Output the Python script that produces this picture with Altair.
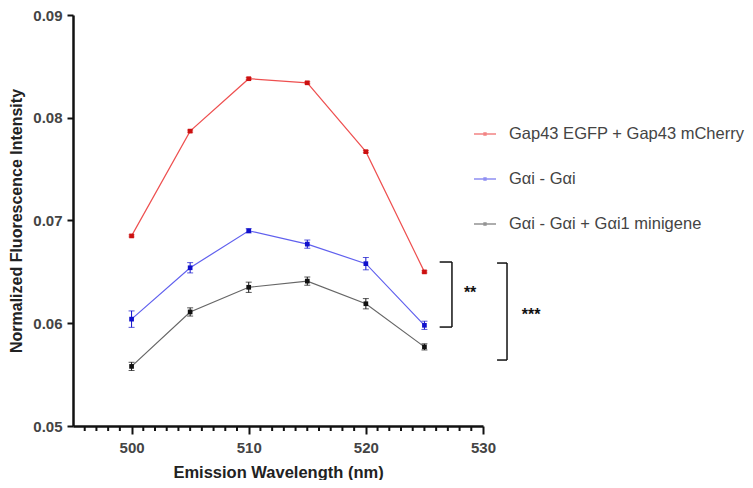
import altair as alt
import pandas as pd

wavelengths = [500, 505, 510, 515, 520, 525]
series_names = ["Gap43 EGFP + Gap43 mCherry", "Gαi - Gαi", "Gαi - Gαi + Gαi1 minigene"]
red_vals = [0.0685, 0.0787, 0.0838, 0.0834, 0.0767, 0.0650]
red_err = [0.0001, 0.0001, 0.0001, 0.0001, 0.0001, 0.0001]
blue_vals = [0.0604, 0.0654, 0.0690, 0.0677, 0.0658, 0.0598]
blue_err = [0.0008, 0.0005, 0.0002, 0.0004, 0.0006, 0.0004]
black_vals = [0.0558, 0.0611, 0.0635, 0.0641, 0.0619, 0.0577]
black_err = [0.0004, 0.0004, 0.0005, 0.0004, 0.0005, 0.0003]
line_colors = ["#ee5050", "#6060ee", "#666666"]
point_colors = ["#cc1010", "#1010cc", "#111111"]

# significance brackets (nm, value)
br_arm_x = [526.3, 531.2]
br_x = [527.35, 532.05]
br_top = [0.06596, 0.06586]
br_bot = [0.05963, 0.05642]
star_x = [528.9, 534.1]
star_y = [0.06324, 0.06109]
star_txt = ["**", "***"]

major_ticks = [500, 510, 520, 530]
minor_ticks = [v for v in range(496, 531) if v % 10 != 0]
y_ticks = [0.05, 0.06, 0.07, 0.08, 0.09]
y_min = 0.05

rows = []
for name, vals, errs, lc, pc in zip(series_names, [red_vals, blue_vals, black_vals],
                                    [red_err, blue_err, black_err], line_colors, point_colors):
    for w, v, e in zip(wavelengths, vals, errs):
        rows.append({"wl": w, "val": v, "lo": v - e, "hi": v + e, "series": name, "pcol": pc})
df = pd.DataFrame(rows)

br = pd.DataFrame({"ax": br_arm_x, "bx": br_x, "top": br_top, "bot": br_bot})
st = pd.DataFrame({"sx": star_x, "sy": star_y, "t": star_txt})
mt = pd.DataFrame({"m": minor_ticks})

FONT = "Liberation Sans"

xscale = alt.Scale(domain=[495, 530], nice=False, zero=False)
yscale = alt.Scale(domain=[0.05, 0.09], nice=False, zero=False)

xaxis = alt.Axis(
    title="Emission Wavelength (nm)",
    values=major_ticks, format="d",
    tickSize=8, tickWidth=2, tickColor="#111", domainColor="#111", domainWidth=2.5,
    labelFont=FONT, labelFontSize=15, labelFontWeight="bold", labelColor="#444",
    labelPadding=6, titleFont=FONT, titleFontSize=16.5, titleFontWeight="bold",
    titleColor="#222", titlePadding=9, grid=False, labelFlush=False, labelOverlap=False,
)
yaxis = alt.Axis(
    title="Normalized Fluorescence Intensity",
    values=y_ticks, format=".2f", tickSize=6, tickWidth=2, tickColor="#111",
    domainColor="#111", domainWidth=2.5,
    labelFont=FONT, labelFontSize=15, labelFontWeight="bold", labelColor="#444",
    labelPadding=5, titleFont=FONT, titleFontSize=16, titleFontWeight="bold",
    titleColor="#222", titlePadding=8, grid=False,
)

base = alt.Chart(df)
x = alt.X("wl:Q", scale=xscale, axis=xaxis)
y = alt.Y("val:Q", scale=yscale, axis=yaxis)

lines = base.mark_line(strokeWidth=1.2).encode(
    x=x, y=y,
    color=alt.Color("series:N", scale=alt.Scale(domain=series_names, range=line_colors),
                    legend=alt.Legend(
                        title=None, orient="none", legendX=400, legendY=107,
                        symbolType="M-1,0H1M-0.08,-0.08H0.08V0.08H-0.08Z",
                        symbolSize=484, symbolStrokeWidth=1.6, padding=0,
                        rowPadding=24, labelOffset=12, labelFont=FONT, labelLimit=400,
                        labelFontSize=16.5, labelColor="#444")),
)
errs = base.mark_rule(strokeWidth=1).encode(
    x="wl:Q", y="lo:Q", y2="hi:Q", color=alt.Color("pcol:N", scale=None))
caps_hi = base.mark_tick(orient="horizontal", size=6, thickness=1).encode(
    x="wl:Q", y="hi:Q", color=alt.Color("pcol:N", scale=None))
caps_lo = base.mark_tick(orient="horizontal", size=6, thickness=1).encode(
    x="wl:Q", y="lo:Q", color=alt.Color("pcol:N", scale=None))
pts = base.mark_point(shape="square", filled=True, size=22, opacity=1).encode(
    x="wl:Q", y="val:Q", color=alt.Color("pcol:N", scale=None))

minor = alt.Chart(mt).mark_tick(orient="vertical", size=5, thickness=2, color="#111",
                                yOffset=2.5, opacity=1).encode(
    x="m:Q", y=alt.datum(y_min))

bchart = alt.Chart(br)
b_vert = bchart.mark_rule(color="#111", strokeWidth=1.5).encode(x="bx:Q", y="top:Q", y2="bot:Q")
b_top = bchart.mark_rule(color="#111", strokeWidth=1.5).encode(x="ax:Q", x2="bx:Q", y="top:Q")
b_bot = bchart.mark_rule(color="#111", strokeWidth=1.5).encode(x="ax:Q", x2="bx:Q", y="bot:Q")
stars = alt.Chart(st).mark_text(font=FONT, fontSize=16, fontWeight="bold", color="#111",
                                baseline="middle", dy=3).encode(
    x="sx:Q", y="sy:Q", text="t:N")

chart = alt.layer(lines, errs, caps_hi, caps_lo, pts, minor, b_vert, b_top, b_bot, stars).properties(
    width=410, height=411,
    padding={"left": 65, "top": 7, "right": 262, "bottom": 54},
    autosize=alt.AutoSizeParams(type="none"),
).configure(background="white").configure_view(stroke=None, strokeWidth=0)

chart.save("out.html", embed_options={"renderer": "svg", "actions": False})
